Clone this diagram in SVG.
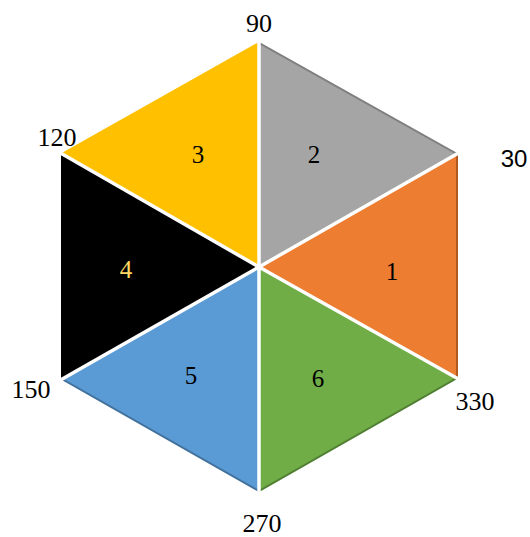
<svg xmlns="http://www.w3.org/2000/svg" width="530" height="537" viewBox="0 0 530 537">
<style>
.t{stroke-width:2;stroke-linejoin:miter}
.sep{stroke:#fff;stroke-width:3.5;fill:none}
.n{font-family:"Liberation Serif","Times New Roman",serif;font-size:25px;text-anchor:middle;fill:#000}
.a{font-family:"Liberation Serif","Times New Roman",serif;font-size:26px;text-anchor:middle;fill:#000}
</style>
<rect width="530" height="537" fill="#fff"/>
<g id="seg2"><polygon class="t" points="259,267 259,43 457,154" fill="#A5A5A5" stroke="#7f7f7f"/><text class="n" x="314" y="163">2</text></g>
<g id="seg1"><polygon class="t" points="259,267 457,154 457,378" fill="#ED7D31" stroke="#ae5a21"/><text class="n" x="392" y="280">1</text></g>
<g id="seg6"><polygon class="t" points="259,267 457,378 259,491" fill="#70AD47" stroke="#507e32"/><text class="n" x="318" y="387">6</text></g>
<g id="seg5"><polygon class="t" points="259,267 259,491 62,379" fill="#5B9BD5" stroke="#41719c"/><text class="n" x="191" y="384">5</text></g>
<g id="seg4"><polygon class="t" points="259,267 62,379 62,154" fill="#000" stroke="#000"/><text class="n" x="126" y="278" fill="#FFD966" style="fill:#FFD966">4</text></g>
<g id="seg3"><polygon class="t" points="259,267 62,154 259,43" fill="#FFC000" stroke="#FFC000"/><text class="n" x="198" y="163">3</text></g>
<g id="connectors">
<line class="sep" x1="259" y1="267" x2="259" y2="38"/>
<line class="sep" x1="259" y1="267" x2="462" y2="151"/>
<line class="sep" x1="259" y1="267" x2="462" y2="381"/>
<line class="sep" x1="259" y1="267" x2="259" y2="496"/>
<line class="sep" x1="259" y1="267" x2="57" y2="382"/>
<line class="sep" x1="259" y1="267" x2="57" y2="151"/>
</g>
<g id="labels">
<text class="a" x="259" y="32">90</text>
<text class="a" x="514" y="167" style="font-family:'Liberation Sans',Arial,sans-serif;font-size:24px">30</text>
<text class="a" x="57" y="146">120</text>
<text class="a" x="475" y="410">330</text>
<text class="a" x="31" y="398">150</text>
<text class="a" x="262" y="532">270</text>
</g>
</svg>
